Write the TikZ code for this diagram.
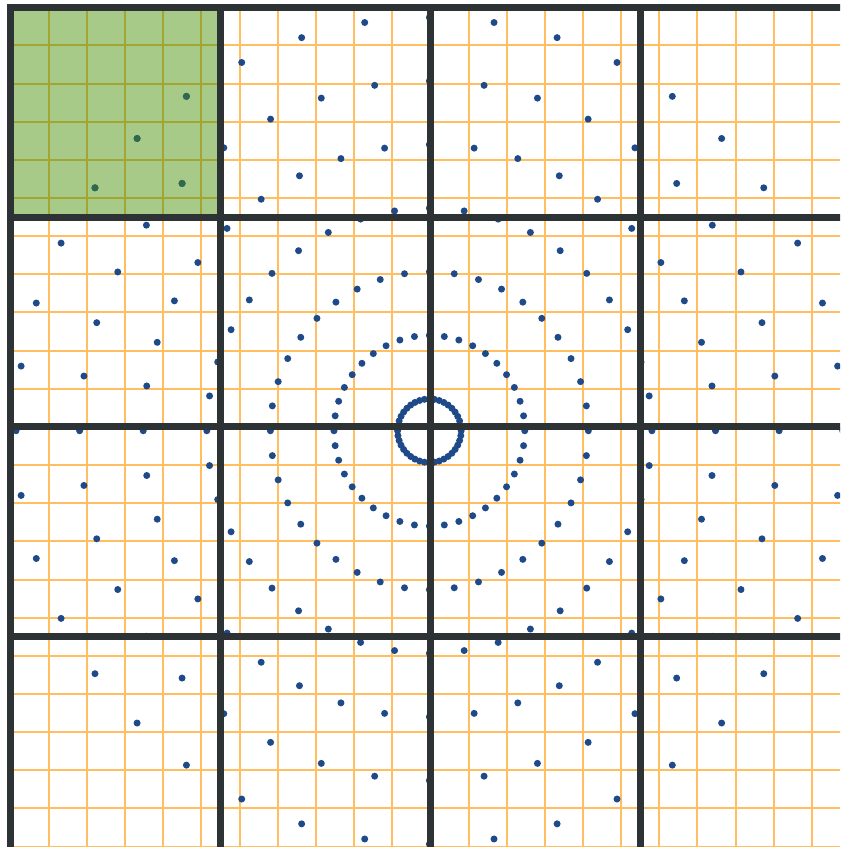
\documentclass[tikz,border=0pt]{standalone}
\usepackage{tikz}

\definecolor{gridorange}{RGB}{255,190,95}
\definecolor{coarsegray}{RGB}{45,50,52}
\definecolor{sampleblue}{RGB}{31,74,138}
\definecolor{cellgreen}{RGB}{168,202,136}
\definecolor{cellolive}{RGB}{162,166,48}
\definecolor{samplegreen}{RGB}{47,107,74}

\begin{document}
\begin{tikzpicture}[x=38.15pt,y=-38.15pt,
  fine/.style={gridorange,line width=2pt},
  finecell/.style={cellolive,line width=2pt},
  coarse/.style={coarsegray,line width=7pt},
  sample/.style={fill=sampleblue},
  samplecell/.style={fill=samplegreen}]
\useasboundingbox (-11.28,-11.19) rectangle (10.74,11.01);
\fill[white] (-11.28,-11.19) rectangle (10.74,11.01);
\clip (-11.28,-11.19) rectangle (10.74,11.01);
\coordinate (c) at (-0.026,0.1);
% fine grid
\foreach \i in {-11,...,10}
  \draw[fine] (\i,-11) -- (\i,11.2);
\foreach \i in {-11,...,11}
  \draw[fine] (-11,\i) -- (10.9,\i);
% highlighted cell
\fill[cellgreen] (-11,-11) rectangle (-5.5,-5.5);
\foreach \i in {-10,...,-6} {
  \draw[finecell] (\i,-11) -- (\i,-5.5);
  \draw[finecell] (-11,\i) -- (-5.5,\i);
}
% polar samples
\foreach \k in {0,...,6}
  \foreach \j in {0,...,39}
    \fill[sample] (c) ++(\j*9:{(2*\k+1)*5/6}) circle (3.5pt);
\begin{scope}
  \clip (-11,-11) rectangle (-5.5,-5.5);
  \foreach \k in {0,...,6}
    \foreach \j in {0,...,39}
      \fill[samplecell] (c) ++(\j*9:{(2*\k+1)*5/6}) circle (3.5pt);
\end{scope}
% coarse grid
\draw[coarse,line join=miter] (-11,11.2) -- (-11,-11) -- (10.9,-11);
\foreach \i in {-5.5,0,5.5} {
  \draw[coarse] (\i,-11) -- (\i,11.2);
  \draw[coarse] (-11,\i) -- (10.9,\i);
}
\end{tikzpicture}
\end{document}
